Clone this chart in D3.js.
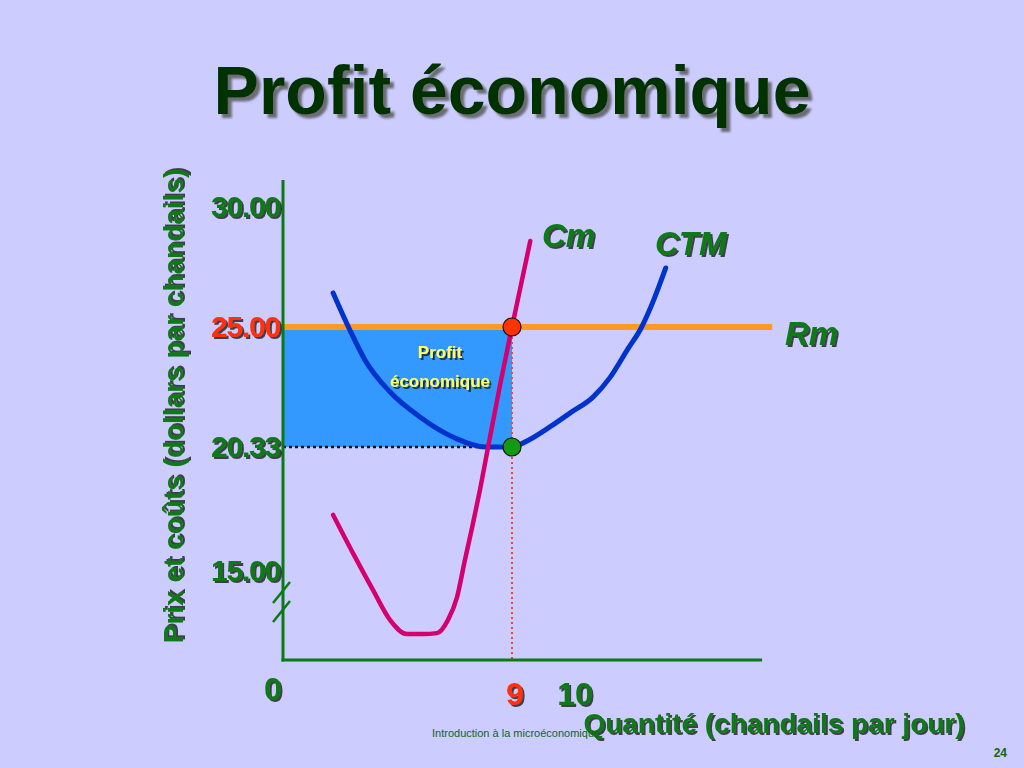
<!DOCTYPE html>
<html><head><meta charset="utf-8">
<script src="https://cdn.jsdelivr.net/npm/d3@7/dist/d3.min.js"></script>
<style>html,body{margin:0;padding:0;background:#ccccff;}svg{display:block;}</style>
</head><body>
<script>
// ---- data ----
const yTicks = [30, 25, 20.33, 15];
const yTickLabels = ["30.00", "25.00", "20.33", "15.00"];
const xTicks = [0, 9, 10];
const xTickLabels = ["0", "9", "10"];
const price = 25;          // Rm
const minCost = 20.33;     // CTM at q = 9
const qOpt = 9;
const cmQ = [1.97, 2.75, 3.54, 4.21, 4.87, 5.50, 6.05, 6.48, 6.84, 7.15, 7.47, 7.74, 8.06, 8.53, 9.0, 9.29];
const cmV = [17.41, 15.77, 14.18, 12.89, 12.29, 12.29, 12.33, 12.89, 13.88, 15.47, 17.06, 18.48, 20.33, 22.74, 25.0, 28.58];
const ctmQ = [1.97, 2.63, 3.22, 4.21, 5.38, 6.76, 7.94, 9.0, 9.21, 9.60, 9.92, 10.29, 10.56, 10.83, 11.05, 11.25, 11.44];
const ctmV = [26.42, 24.88, 23.72, 22.47, 21.50, 20.68, 20.33, 20.33, 20.53, 21.11, 21.65, 22.28, 23.05, 24.11, 24.96, 26.13, 27.46];
const rmEndQ = 13.13;
const xAxisEndQ = 12.97;

const W = 1024, H = 768;
const green = "#0b7a16";
const FF = "Liberation Sans, Arial, sans-serif";
const svg = d3.select("body").append("svg").attr("width", W).attr("height", H);
const defs = svg.append("defs");
const f = defs.append("filter").attr("id", "sh").attr("x", "-10%").attr("y", "-10%").attr("width", "130%").attr("height", "140%");
f.append("feDropShadow").attr("dx", 2).attr("dy", 2).attr("stdDeviation", 0.6).attr("flood-color", "#111").attr("flood-opacity", 0.75);
const f2 = defs.append("filter").attr("id", "sh2").attr("x", "-10%").attr("y", "-10%").attr("width", "130%").attr("height", "140%");
f2.append("feDropShadow").attr("dx", 4).attr("dy", 4).attr("stdDeviation", 1).attr("flood-color", "#555").attr("flood-opacity", 0.8);

svg.append("rect").attr("width", W).attr("height", H).attr("fill", "#ccccff");

// scales (schematic, piecewise linear like the slide)
const x = d3.scaleLinear().domain([0, 9, 10]).range([283, 512, 575]);
const y = d3.scaleLinear().domain([15, 20.33, 25, 30]).range([571, 447, 327, 207]);
const yTop = 180, yBase = 660;

// title
svg.append("text").attr("x", 512).attr("y", 114).attr("text-anchor", "middle")
  .attr("font-family", FF).attr("font-weight", "bold")
  .attr("font-size", 68).attr("fill", "#003300").attr("filter", "url(#sh2)").text("Profit économique");

// profit rectangle
svg.append("rect").attr("x", x(0)).attr("y", y(price)).attr("width", x(qOpt) - x(0))
  .attr("height", y(minCost) - y(price)).attr("fill", "#3399ff");

// profit label
const pl = svg.append("g").attr("font-family", FF).attr("font-weight", "bold")
  .attr("font-size", 17).attr("fill", "#ffff66").attr("text-anchor", "middle").attr("filter", "url(#sh)");
pl.append("text").attr("x", 440).attr("y", 358).text("Profit");
pl.append("text").attr("x", 440).attr("y", 387).text("économique");

// dotted guides
svg.append("line").attr("x1", x(0)).attr("x2", x(qOpt)).attr("y1", y(minCost)).attr("y2", y(minCost))
  .attr("stroke", "#111").attr("stroke-width", 2.5).attr("stroke-dasharray", "3,3");
svg.append("line").attr("x1", x(qOpt)).attr("x2", x(qOpt)).attr("y1", y(price)).attr("y2", yBase)
  .attr("stroke", "#ff4422").attr("stroke-width", 2).attr("stroke-dasharray", "2,3");

// Rm
svg.append("line").attr("x1", x(0)).attr("x2", x(rmEndQ)).attr("y1", y(price)).attr("y2", y(price))
  .attr("stroke", "#ff9922").attr("stroke-width", 6);

const line = d3.line().x(d => x(d[0])).y(d => y(d[1])).curve(d3.curveMonotoneX);
// CTM
svg.append("path").datum(ctmQ.map((q, i) => [q, ctmV[i]])).attr("d", line)
  .attr("fill", "none").attr("stroke", "#0033cc").attr("stroke-width", 5).attr("stroke-linecap", "round");
// Cm
svg.append("path").datum(cmQ.map((q, i) => [q, cmV[i]])).attr("d", line)
  .attr("fill", "none").attr("stroke", "#d4006e").attr("stroke-width", 4.5).attr("stroke-linecap", "round");

// points
svg.append("circle").attr("cx", x(qOpt)).attr("cy", y(price)).attr("r", 9)
  .attr("fill", "#ff3300").attr("stroke", "#111").attr("stroke-width", 1.2);
svg.append("circle").attr("cx", x(qOpt)).attr("cy", y(minCost)).attr("r", 9)
  .attr("fill", "#139a13").attr("stroke", "#111").attr("stroke-width", 1.2);

// axes
svg.append("line").attr("x1", x(0)).attr("x2", x(0)).attr("y1", yTop).attr("y2", yBase + 1.5)
  .attr("stroke", green).attr("stroke-width", 3);
svg.append("line").attr("x1", x(0) - 1.5).attr("x2", x(xAxisEndQ)).attr("y1", yBase).attr("y2", yBase)
  .attr("stroke", green).attr("stroke-width", 3);
// break marks
[0, 19].forEach(o => {
  svg.append("line").attr("x1", 273).attr("y1", 603 + o).attr("x2", 290).attr("y2", 582 + o)
    .attr("stroke", green).attr("stroke-width", 2.5);
});

// y tick labels
const yl = svg.append("g").attr("font-family", FF).attr("font-weight", "bold")
  .attr("font-size", 30).attr("text-anchor", "end").attr("filter", "url(#sh)");
yTicks.forEach((v, i) => {
  yl.append("text").attr("x", 280).attr("y", y(v) + 10).attr("letter-spacing", -1.2)
    .attr("fill", v === price ? "#ff3311" : green).text(yTickLabels[i]);
});

// x tick labels
const xl = svg.append("g").attr("font-family", FF).attr("font-weight", "bold")
  .attr("font-size", 32).attr("text-anchor", "middle").attr("filter", "url(#sh)");
xTicks.forEach((v, i) => {
  xl.append("text").attr("x", x(v) + (v === 0 ? -10 : v === 9 ? 3 : 0)).attr("y", v === 0 ? 700 : 705)
    .attr("fill", v === qOpt ? "#ff3311" : green).text(xTickLabels[i]);
});

// axis titles
svg.append("text").attr("transform", "translate(183,406) rotate(-90)").attr("text-anchor", "middle")
  .attr("font-family", FF).attr("font-weight", "bold").attr("font-size", 28)
  .attr("fill", green).attr("filter", "url(#sh)").text("Prix et coûts (dollars par chandails)");
svg.append("text").attr("x", 774).attr("y", 733).attr("text-anchor", "middle")
  .attr("font-family", FF).attr("font-weight", "bold").attr("font-size", 28)
  .attr("fill", green).attr("filter", "url(#sh)").text("Quantité (chandails par jour)");

// curve labels
const cl = svg.append("g").attr("font-family", FF).attr("font-weight", "bold")
  .attr("font-style", "italic").attr("font-size", 33).attr("fill", green).attr("filter", "url(#sh)");
cl.append("text").attr("x", 542).attr("y", 247).text("Cm");
cl.append("text").attr("x", 655).attr("y", 255).text("CTM");
cl.append("text").attr("x", 785).attr("y", 345).text("Rm");

// footer
svg.append("text").attr("x", 432).attr("y", 737).attr("font-family", FF)
  .attr("font-size", 11).attr("fill", "#116611").text("Introduction à la microéconomique");
svg.append("text").attr("x", 1007).attr("y", 757).attr("text-anchor", "end").attr("font-family", FF)
  .attr("font-weight", "bold").attr("font-size", 12).attr("fill", "#116611").text("24");
</script>
</body></html>
